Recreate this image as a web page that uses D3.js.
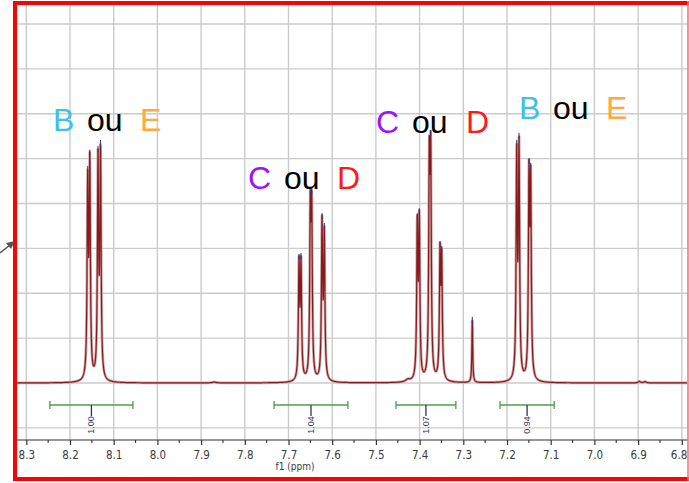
<!DOCTYPE html>
<html>
<head>
<meta charset="utf-8">
<script src="https://cdn.jsdelivr.net/npm/d3@7"></script>
<style>
  html, body { margin: 0; padding: 0; background: #fff; }
  svg { display: block; }
</style>
</head>
<body>
<svg id="chart" width="689" height="483"></svg>
<script>
// ---- 1H NMR aromatic region: peak list (shift in ppm, height in grid units above baseline)
const peakShifts = [
  8.1595, 8.1547, 8.1359, 8.1302,
  7.6760, 7.6714, 7.6501, 7.6469, 7.6233, 7.6181,
  7.4053, 7.4007, 7.3778, 7.3746, 7.3533, 7.3494,
  7.2794,
  7.1778, 7.1725, 7.1497, 7.1458
];
const peakHeights = [
  4.79, 5.15, 5.24, 5.37,
  2.83, 2.85, 4.28, 4.30, 3.74, 3.52,
  3.74, 3.85, 5.48, 5.59, 3.12, 3.01,
  1.43,
  5.37, 5.53, 4.97, 4.86
];
// half width at half maximum, ppm
const peakWidths = [
  0.0016, 0.0016, 0.0016, 0.0016,
  0.0016, 0.0016, 0.0016, 0.0016, 0.0016, 0.0016,
  0.0016, 0.0016, 0.0016, 0.0016, 0.0016, 0.0016,
  0.0011,
  0.0016, 0.0016, 0.0016, 0.0016
];

// small baseline humps
const bumpShifts  = [7.427, 7.870, 6.897, 6.884];
const bumpHeights = [0.05, 0.02, 0.035, 0.03];
const bumpWidths  = [0.006, 0.005, 0.003, 0.003];

// integrals
const integralFrom   = [8.246, 7.733, 7.454, 7.216];
const integralTo     = [8.056, 7.564, 7.317, 7.092];
const integralLabels = ["1.00", "1.04", "1.07", "0.94"];

// axis
const tickLabels = ["8.3","8.2","8.1","8.0","7.9","7.8","7.7","7.6","7.5","7.4","7.3","7.2","7.1","7.0","6.9","6.8"];
const minorTicks = [8.25,8.15,8.05,7.95,7.85,7.75,7.65,7.55,7.45,7.35,7.25,7.15,7.05,6.95,6.85];
const gridLevels = [-1,0,1,2,3,4,5,6,7,8];

// assignment labels above the multiplets
const assignTexts  = [["B","ou","E"], ["C","ou","D"], ["C","ou","D"], ["B","ou","E"]];
const assignColors = [["#3fc0e6","#000","#ffa940"], ["#9b14ff","#000","#ff1a1a"], ["#9b14ff","#000","#ff1a1a"], ["#3fc0e6","#000","#ffa940"]];

// ---- layout
const frame = { left: 15, top: 3, right: 688, bottom: 479 };
const axisY = 440;
const labelSpots = [
  { x: [53, 87, 140],  y: 131 },
  { x: [248, 284, 337], y: 189 },
  { x: [376, 412, 466], y: 133 },
  { x: [519, 553, 606], y: 119 }
];

const svg = d3.select("#chart");
svg.append("rect").attr("width", 689).attr("height", 483).attr("fill", "#fff");

const x = d3.scaleLinear().domain([8.3, 6.8]).range([26.3, 681.8]);
const y = d3.scaleLinear().domain([0, 8]).range([383, 24]);

// ---- grid
const grid = svg.append("g").attr("stroke", "#cbcbcb").attr("stroke-width", 1.4);
grid.selectAll("line.v").data(tickLabels.map(Number)).join("line")
  .attr("class", "v")
  .attr("x1", d => x(d)).attr("x2", d => x(d))
  .attr("y1", frame.top).attr("y2", axisY);
grid.selectAll("line.h").data(gridLevels).join("line")
  .attr("class", "h")
  .attr("x1", frame.left).attr("x2", frame.right)
  .attr("y1", d => y(d)).attr("y2", d => y(d));

// ---- spectrum: Lorentzian lines whose amplitudes reproduce the peak heights
const lor = (d, w) => (w * w) / (d * d + w * w);
const bumpAt = s => d3.sum(bumpShifts, (b, k) => bumpHeights[k] * lor(s - b, bumpWidths[k]));

function solve(A, b) {
  const n = b.length;
  const M = A.map((row, i) => row.concat([b[i]]));
  for (let c = 0; c < n; c++) {
    let p = c;
    for (let r = c + 1; r < n; r++) if (Math.abs(M[r][c]) > Math.abs(M[p][c])) p = r;
    [M[c], M[p]] = [M[p], M[c]];
    for (let r = c + 1; r < n; r++) {
      const f = M[r][c] / M[c][c];
      for (let k = c; k <= n; k++) M[r][k] -= f * M[c][k];
    }
  }
  const out = new Array(n).fill(0);
  for (let i = n - 1; i >= 0; i--) {
    let s = M[i][n];
    for (let k = i + 1; k < n; k++) s -= M[i][k] * out[k];
    out[i] = s / M[i][i];
  }
  return out;
}

const A = peakShifts.map(si => peakShifts.map((sj, j) => lor(si - sj, peakWidths[j])));
const amps = solve(A, peakHeights.map((h, i) => h - bumpAt(peakShifts[i])));

const spectrumAt = s => bumpAt(s) + d3.sum(peakShifts, (p, j) => amps[j] * lor(s - p, peakWidths[j]));
const samples = d3.range(8.34, 6.76, -0.0004).map(s => [s, spectrumAt(s)]);

svg.append("clipPath").attr("id", "plotClip")
  .append("rect").attr("x", frame.left + 2).attr("y", frame.top + 2)
  .attr("width", frame.right - frame.left - 3).attr("height", axisY - frame.top - 2);

const line = d3.line().x(d => x(d[0])).y(d => y(d[1]));
const spec = svg.append("g").attr("clip-path", "url(#plotClip)");
spec.append("path").datum(samples).attr("d", line)
  .attr("fill", "none").attr("stroke", "#cfa6a6").attr("stroke-width", 2.8).attr("stroke-linejoin", "round");
spec.append("path").datum(samples).attr("d", line)
  .attr("fill", "none").attr("stroke", "#861a1e").attr("stroke-width", 1.2).attr("stroke-linejoin", "round");

// peak-pick marks at the tips
spec.selectAll("line.tip").data(peakShifts).join("line")
  .attr("class", "tip")
  .attr("x1", d => x(d)).attr("x2", d => x(d))
  .attr("y1", (d, i) => y(peakHeights[i]) - 2)
  .attr("y2", (d, i) => y(peakHeights[i]) + 4)
  .attr("stroke", "#34347a").attr("stroke-width", 1);

// ---- integrals
const integ = svg.append("g");
const barY = 405;
integralFrom.forEach((f, i) => {
  const x1 = x(f), x2 = x(integralTo[i]), xm = (x1 + x2) / 2;
  const g = integ.append("g");
  g.append("line").attr("x1", x1).attr("x2", x2).attr("y1", barY).attr("y2", barY)
    .attr("stroke", "#4e9e4e").attr("stroke-width", 1.3);
  [x1, x2].forEach(xx => g.append("line").attr("x1", xx).attr("x2", xx)
    .attr("y1", barY - 4).attr("y2", barY + 4).attr("stroke", "#4e9e4e").attr("stroke-width", 1.3));
  g.append("line").attr("x1", xm).attr("x2", xm).attr("y1", barY).attr("y2", barY + 11)
    .attr("stroke", "#2e2e6e").attr("stroke-width", 1.3);
  g.append("text").attr("transform", `translate(${xm + 3},${barY + 20}) rotate(-90)`)
    .attr("text-anchor", "middle")
    .attr("font-family", "Liberation Sans, Arial, sans-serif").attr("font-size", 9)
    .attr("fill", "#33336e").text(integralLabels[i]);
});

// ---- axis
const axis = d3.axisBottom(x)
  .tickValues(tickLabels.map(Number))
  .tickFormat((d, i) => tickLabels[i])
  .tickSize(5).tickSizeOuter(0).tickPadding(6);
const ax = svg.append("g").attr("transform", `translate(0,${axisY})`).call(axis);
ax.select(".domain").remove();
ax.selectAll(".tick line").attr("stroke", "#333").attr("stroke-width", 1.2);
ax.selectAll(".tick text")
  .attr("font-family", "Liberation Sans Narrow, DejaVu Sans Condensed, Arial Narrow, sans-serif")
  .attr("font-size", 11.5).attr("fill", "#3a3a3a");
// the last label sits against the frame edge
ax.selectAll(".tick text").filter((d, i, n) => i === n.length - 1)
  .attr("text-anchor", "end").attr("dx", 5);
ax.append("line").attr("x1", frame.left).attr("x2", frame.right).attr("y1", 0).attr("y2", 0)
  .attr("stroke", "#333").attr("stroke-width", 1.2);
ax.selectAll("line.minor").data(minorTicks).join("line")
  .attr("class", "minor")
  .attr("x1", d => x(d)).attr("x2", d => x(d)).attr("y1", 0).attr("y2", 3)
  .attr("stroke", "#333").attr("stroke-width", 1.1);

svg.append("text").attr("x", 295).attr("y", 470).attr("text-anchor", "middle")
  .attr("font-family", "Liberation Sans Narrow, DejaVu Sans Condensed, sans-serif")
  .attr("font-size", 10).attr("fill", "#3a3a3a").text("f1 (ppm)");

// ---- assignment labels
assignTexts.forEach((parts, i) => {
  parts.forEach((t, k) => {
    svg.append("text").attr("x", labelSpots[i].x[k]).attr("y", labelSpots[i].y)
      .attr("font-family", "Liberation Sans, Arial, Helvetica, sans-serif")
      .attr("font-size", 32).attr("fill", assignColors[i][k]).text(t);
  });
});

// ---- pointer arrow at the left edge
svg.append("line").attr("x1", 0).attr("y1", 253).attr("x2", 10).attr("y2", 245)
  .attr("stroke", "#555").attr("stroke-width", 1.6);
svg.append("path").attr("d", "M15,241 L6,243 L11,249 Z").attr("fill", "#555");

// ---- red frame
const fr = svg.append("g").attr("stroke", "#ff0000");
fr.append("line").attr("x1", frame.left - 2).attr("x2", 689).attr("y1", frame.top).attr("y2", frame.top).attr("stroke-width", 4);
fr.append("line").attr("x1", frame.left).attr("x2", frame.left).attr("y1", 1).attr("y2", frame.bottom + 2).attr("stroke-width", 4);
fr.append("line").attr("x1", frame.left - 2).attr("x2", 689).attr("y1", frame.bottom).attr("y2", frame.bottom).attr("stroke-width", 4);
fr.append("line").attr("x1", frame.right).attr("x2", frame.right).attr("y1", 1).attr("y2", frame.bottom + 2)
  .attr("stroke", "#f07070").attr("stroke-width", 1.5);
</script>
</body>
</html>
